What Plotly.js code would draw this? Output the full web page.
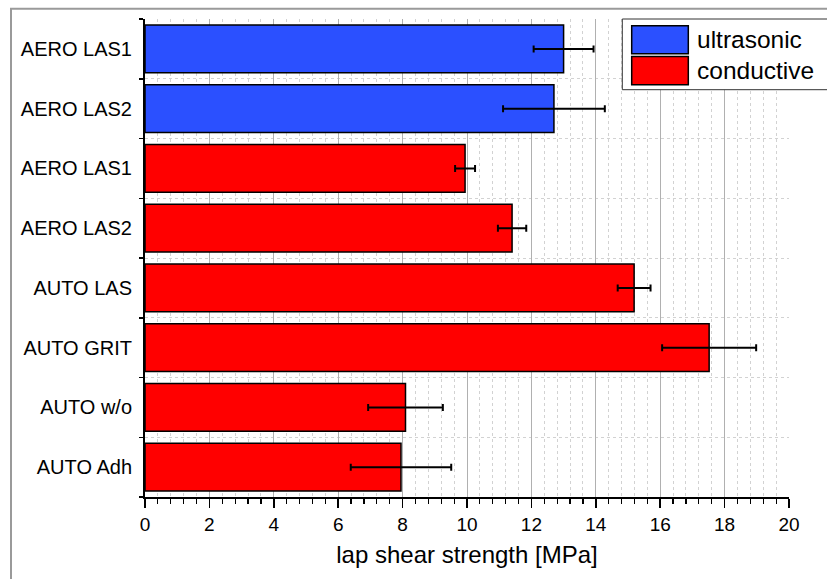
<!DOCTYPE html>
<html><head><meta charset="utf-8">
<script src="https://cdn.plot.ly/plotly-3.0.1.min.js"></script>
<style>html,body{margin:0;padding:0;background:#fff}#chart{width:827px;height:579px}</style>
</head><body><div id="chart"></div>
<script>
// ---- data ----
const categories = ["AERO LAS1", "AERO LAS2", "AERO LAS1", "AERO LAS2", "AUTO LAS", "AUTO GRIT", "AUTO w/o", "AUTO Adh"];
const seriesNames = ["ultrasonic", "conductive"];
const ultrasonicRows = [0, 1];
const ultrasonicValues = [13.0, 12.7];
const ultrasonicErrors = [0.93, 1.58];
const conductiveRows = [2, 3, 4, 5, 6, 7];
const conductiveValues = [9.94, 11.4, 15.19, 17.52, 8.09, 7.95];
const conductiveErrors = [0.31, 0.44, 0.51, 1.46, 1.16, 1.56];
const xTickValues = [0, 2, 4, 6, 8, 10, 12, 14, 16, 18, 20];
const xTitle = "lap shear strength [MPa]";

// ---- styles ----
const BLUE = "#2b50ff", RED = "#ff0000";
const FONT = "Liberation Sans, Arial, sans-serif";
const rowIdx = categories.map((c, i) => i);
const boundaries = categories.map((c, i) => i - 0.5).concat([categories.length - 0.5]);

function barTrace(name, rows, vals, errs, color) {
  return {
    type: "bar", orientation: "h", name: name,
    x: vals, y: rows, width: 0.8,
    marker: {color: color, line: {color: "#000", width: 1.5}},
    error_x: {type: "data", array: errs, visible: true, color: "#000", thickness: 2, width: 3.5},
    showlegend: false, hoverinfo: "x+y"
  };
}

const data = [
  barTrace(seriesNames[0], ultrasonicRows, ultrasonicValues, ultrasonicErrors, BLUE),
  barTrace(seriesNames[1], conductiveRows, conductiveValues, conductiveErrors, RED)
];

// plot area in px: x 145..789, y 19.3..497.3
const L = 145, R = 789, T = 19.3, B = 497.3;
const px = v => (v - L) / (R - L);
const py = v => (B - v) / (B - T);

const layout = {
  width: 827, height: 579,
  margin: {l: L, r: 827 - R, t: T, b: 579 - B, pad: 0},
  paper_bgcolor: "#fff", plot_bgcolor: "#fff",
  font: {family: FONT, color: "#000"},
  bargap: 0.2,
  xaxis: {
    range: [0, 20], autorange: false,
    tickmode: "array", tickvals: xTickValues,
    ticks: "outside", ticklen: 9, tickwidth: 1.5, tickcolor: "#000",
    tickfont: {size: 19, family: FONT, color: "#000"},
    showline: true, linecolor: "#000", linewidth: 2,
    showgrid: true, gridcolor: "#b0b0b0", gridwidth: 1,
    zeroline: false,
    minor: {dtick: 0.4, tick0: 0, ticks: "outside", ticklen: 5, tickwidth: 1.2, tickcolor: "#000",
            showgrid: true, gridcolor: "#d2d2d2", gridwidth: 1, griddash: "dot"},
    title: {text: xTitle, font: {size: 24, family: FONT, color: "#000"}, standoff: 12},
    fixedrange: true
  },
  yaxis: {
    range: [categories.length - 0.5, -0.5], autorange: false,
    tickmode: "array", tickvals: rowIdx, ticktext: categories,
    ticks: "outside", ticklen: 0, tickcolor: "rgba(0,0,0,0)",
    ticklabelstandoff: 7,
    tickfont: {size: 20, family: FONT, color: "#000"},
    showline: true, linecolor: "#000", linewidth: 2,
    showgrid: false, zeroline: false,
    minor: {tickmode: "array", tickvals: boundaries, ticks: "outside", ticklen: 4, tickwidth: 1.5, tickcolor: "#000",
            showgrid: true, gridcolor: "#d2d2d2", gridwidth: 1, griddash: "dot"},
    fixedrange: true
  },
  shapes: [
    // outer frame
    {type: "rect", xref: "paper", yref: "paper", x0: px(11), x1: px(900), y0: py(700), y1: py(9),
     line: {color: "#9a9a9a", width: 2}, fillcolor: "rgba(0,0,0,0)", layer: "below"},
    // legend box
    {type: "rect", xref: "paper", yref: "paper", x0: px(622.3), x1: px(840), y0: py(90), y1: py(19.3),
     line: {color: "#333", width: 1}, fillcolor: "#fff", layer: "above"},
    {type: "rect", xref: "paper", yref: "paper", x0: px(631.7), x1: px(688.3), y0: py(54), y1: py(26),
     line: {color: "#000", width: 1.5}, fillcolor: BLUE, layer: "above"},
    {type: "rect", xref: "paper", yref: "paper", x0: px(631.7), x1: px(688.3), y0: py(85), y1: py(56.7),
     line: {color: "#000", width: 1.5}, fillcolor: RED, layer: "above"}
  ],
  annotations: [
    {xref: "paper", yref: "paper", x: px(695), y: py(40), xanchor: "left", yanchor: "middle",
     text: seriesNames[0], showarrow: false, font: {size: 24.5, family: FONT, color: "#000"}},
    {xref: "paper", yref: "paper", x: px(695), y: py(71), xanchor: "left", yanchor: "middle",
     text: seriesNames[1], showarrow: false, font: {size: 24.5, family: FONT, color: "#000"}}
  ]
};

Plotly.newPlot("chart", data, layout, {displayModeBar: false, staticPlot: true});
</script>
</body></html>
